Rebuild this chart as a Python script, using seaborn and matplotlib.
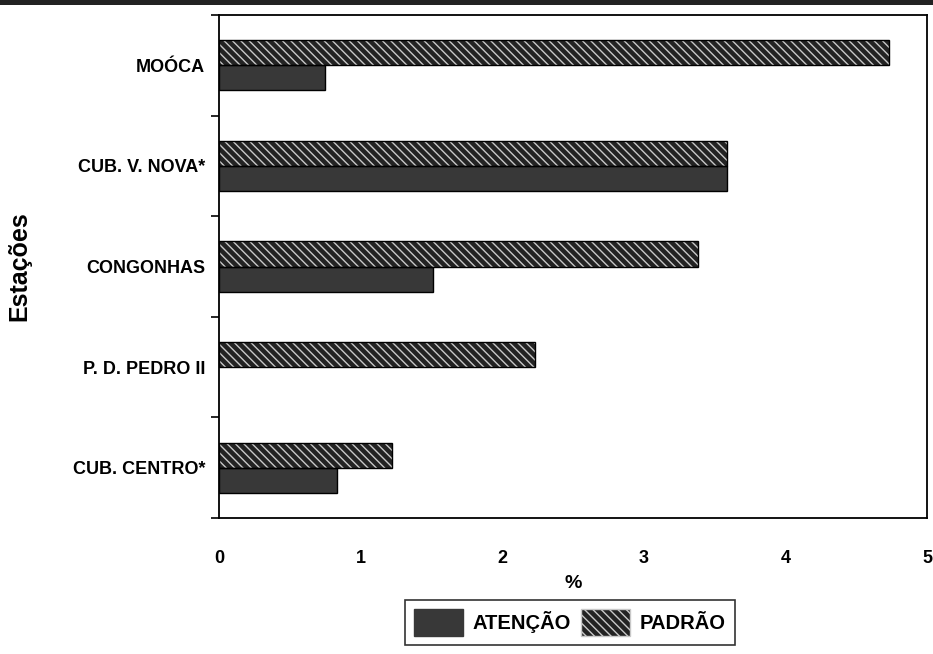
import pandas as pd
import matplotlib
matplotlib.use("Agg")
import matplotlib.pyplot as plt
import seaborn as sns
from matplotlib.patches import Patch, Rectangle
from matplotlib.ticker import FixedLocator

estacoes = ["MOÓCA", "CUB. V. NOVA*", "CONGONHAS", "P. D. PEDRO II", "CUB. CENTRO*"]
padrao = [4.73, 3.59, 3.38, 2.23, 1.22]
atencao = [0.75, 3.59, 1.51, 0.0, 0.83]

df = pd.DataFrame({
    "Estação": estacoes * 2,
    "Série": ["PADRÃO"] * len(estacoes) + ["ATENÇÃO"] * len(estacoes),
    "Valor": padrao + atencao,
})

sns.set_theme(style="white")
plt.rcParams["font.family"] = ["Liberation Sans", "DejaVu Sans"]
plt.rcParams["font.weight"] = "bold"
plt.rcParams["hatch.linewidth"] = 1.0
for k in ["text.color", "axes.labelcolor", "xtick.color", "ytick.color"]:
    plt.rcParams[k] = "black"

COR_PADRAO = "#232323"
COR_HATCH = "#c8c8c8"
COR_ATENCAO = "#383838"
HATCH = "\\\\\\\\"

fig = plt.figure(figsize=(9.33, 6.54), dpi=100)
ax = fig.add_axes([0.2347, 0.208, 0.759, 0.769])

sns.barplot(data=df, y="Estação", x="Valor", hue="Série", order=estacoes,
            hue_order=["PADRÃO", "ATENÇÃO"], width=0.5, orient="h",
            palette=[COR_PADRAO, COR_ATENCAO], legend=False, ax=ax)

n = len(estacoes)
for i, p in enumerate(ax.patches[:2 * n]):
    if i < n:
        p.set_hatch(HATCH)
        p.set_edgecolor(COR_HATCH)
    else:
        p.set_edgecolor(COR_ATENCAO)
    p.set_linewidth(0)
    if p.get_width() > 0:
        ax.add_patch(Rectangle(p.get_xy(), p.get_width(), p.get_height(),
                               fill=False, edgecolor="black", lw=1.0, zorder=3))

ax.set_xlim(0, 5)
ax.set_ylim(n - 0.5, -0.5)
ax.set_xticks(range(6))
ax.tick_params(axis="x", which="major", direction="out", length=6, width=1.2,
               labelsize=13, pad=17)
ax.tick_params(axis="y", which="major", length=0, labelsize=13, pad=10)
ax.yaxis.set_minor_locator(FixedLocator([i + 0.5 for i in range(-1, n)]))
ax.tick_params(axis="y", which="minor", direction="out", length=6, width=1.2,
               left=True)
for lab in ax.get_xticklabels() + ax.get_yticklabels():
    lab.set_fontweight("bold")

for s in ax.spines.values():
    s.set_visible(True)
    s.set_color("black")
    s.set_linewidth(1.3)

ax.set_xlabel("%", fontsize=14, fontweight="bold", labelpad=6)
ax.set_ylabel("Estações", fontsize=18, fontweight="bold", labelpad=30)

handles = [
    Patch(facecolor=COR_ATENCAO, edgecolor=COR_ATENCAO, label="ATENÇÃO"),
    Patch(facecolor=COR_PADRAO, edgecolor=COR_HATCH, hatch=HATCH, label="PADRÃO"),
]
leg = fig.legend(handles=handles, loc="upper center", bbox_to_anchor=(0.611, 0.083), ncol=2,
                 frameon=True, fancybox=False, edgecolor="black", fontsize=14.5,
                 handlelength=2.4, handleheight=1.7, columnspacing=0.5,
                 handletextpad=0.5, borderpad=0.45, borderaxespad=0)
leg.get_frame().set_linewidth(1.2)
for t in leg.get_texts():
    t.set_fontweight("bold")

# dark band along the top edge of the scanned page
fig.patches.append(Rectangle((0, 0.993), 1, 0.007, transform=fig.transFigure,
                             facecolor="#222222", edgecolor="none"))

fig.savefig("out.png", dpi=100)
